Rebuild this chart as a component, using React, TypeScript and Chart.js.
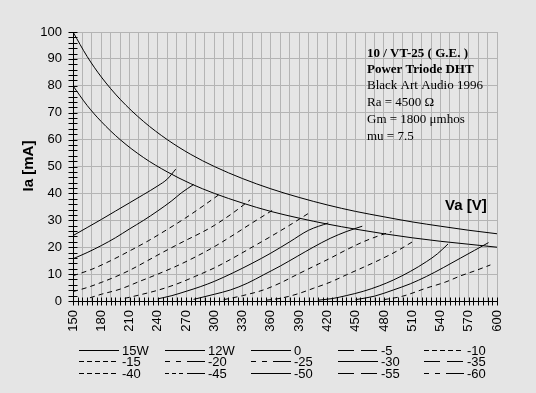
import React, { useEffect, useRef } from 'react';
import { Chart, registerables } from 'chart.js';

Chart.register(...registerables);

// ---- data (Va [V], Ia [mA]) ----
const w15 = [[150,100],[165,90.9],[180,83.3],[200,75],[225,66.7],[250,60],[275,54.5],[300,50],[330,45.5],[360,41.7],[390,38.5],[420,35.7],[450,33.3],[480,31.3],[510,29.4],[540,27.8],[570,26.3],[600,25]];
const w12 = [[150,80],[165,72.7],[180,66.7],[200,60],[225,53.3],[250,48],[275,43.6],[300,40],[330,36.4],[360,33.3],[390,30.8],[420,28.6],[450,26.7],[480,25],[510,23.5],[540,22.2],[570,21.1],[600,20]];
const g0 = [[150,24.3],[165,27.3],[180,30.3],[195,33.4],[210,36.5],[225,39.6],[240,42.8],[250,45.3],[259,49]];
const g5 = [[150,15.7],[165,18],[180,20.6],[195,23.5],[210,26.8],[225,30],[240,33.5],[255,37.3],[265,40.2],[278,43.3]];
const g10 = [[150,9.4],[170,11.8],[190,15],[210,18.6],[230,22.4],[250,26.6],[270,31],[290,35.8],[308,40.3]];
const g15 = [[150,3.5],[165,5],[180,6.9],[195,9],[210,11.4],[225,14.2],[240,17.1],[255,19.9],[270,22.6],[285,25.2],[300,28.1],[320,32.8],[338,37.6]];
const g20 = [[168,1.2],[180,2.5],[200,4.4],[220,7.2],[240,10],[260,13],[280,16.4],[300,20.2],[320,24.5],[340,29],[362,33.8]];
const g25 = [[205,1],[220,2.2],[240,4],[260,6.3],[280,9.2],[300,12.3],[320,16],[340,20],[360,24],[380,28.2],[400,32.6]];
const g30 = [[240,0.8],[255,2],[270,3.6],[285,5.3],[300,7.3],[320,10.5],[340,14],[360,17.8],[380,22],[400,26.3],[421,29]];
const g35 = [[278,0.6],[300,2.5],[317,4.1],[335,6.6],[352,9.7],[370,13],[388,16.6],[405,20],[423,23.3],[440,25.8],[457,27.8]];
const g40 = [[310,0.5],[330,2],[352,4.1],[370,6.7],[387,9.7],[405,12.8],[423,15.9],[440,19],[458,22],[475,24.3],[488,25.8]];
const g45 = [[355,0.3],[370,1],[388,2.6],[405,4.7],[423,7],[440,9.7],[458,12.5],[476,15.4],[495,18.8],[513,22.6]];
const g50 = [[410,0.3],[425,0.9],[440,2],[458,3.6],[475,5.6],[490,7.8],[508,11],[525,14.6],[537,17.6],[548,21.2]];
const g55 = [[450,0.5],[470,1.8],[490,4.1],[508,6.4],[525,9.1],[543,12.4],[561,15.9],[576,18.8],[591,21.7]];
const g60 = [[480,0.5],[500,1.8],[525,4.8],[545,7],[561,9.3],[578,11.4],[593,13.4]];

const seriesLabels = ['15W','12W','0','-5','-10','-15','-20','-25','-30','-35','-40','-45','-50','-55','-60'];
const seriesData = [w15, w12, g0, g5, g10, g15, g20, g25, g30, g35, g40, g45, g50, g55, g60];

const infoLines = ['10 / VT-25 ( G.E. )', 'Power Triode DHT', 'Black Art Audio 1996', 'Ra = 4500 Ω', 'Gm = 1800 μmhos', 'mu = 7.5'];
const xTitle = 'Va [V]';
const yTitle = 'Ia [mA]';

// ---- styles ----
const DASH: number[] = [5, 4];
const plotDash: number[][] = [[], [], [], [], DASH, DASH, DASH, DASH, [], [], DASH, DASH, [], [], DASH];
const LD_LONG = [16, 7];
const LD_SHORT = [5, 3];
const LD_DD = [5, 6, 5, 6, 18];
const LD_DDD = [4, 3, 4, 3, 4, 4, 18];
const legendDash: number[][] = [[], [], [], LD_LONG, LD_SHORT, LD_SHORT, LD_DD, LD_DD, [], LD_LONG, LD_SHORT, LD_DDD, [], LD_LONG, LD_DD];

const BG = '#e5e5e5';
const GRID = '#b4b4b4';
const SANS = '"Liberation Sans", Arial, sans-serif';
const SERIF = '"Liberation Serif", "Times New Roman", serif';

const decoPlugin = {
  id: 'deco',
  beforeDraw(chart: any) {
    const ctx = chart.ctx;
    ctx.save();
    ctx.fillStyle = BG;
    ctx.fillRect(0, 0, chart.width, chart.height);
    ctx.restore();
  },
  afterDraw(chart: any) {
    const ctx = chart.ctx;
    const { left, right, top, bottom } = chart.chartArea;
    const xs = chart.scales.x;
    const ys = chart.scales.y;
    ctx.save();
    ctx.strokeStyle = '#000';
    ctx.lineWidth = 1;
    ctx.setLineDash([]);
    // axes
    const ax = Math.round(left) + 0.5;
    const ay = Math.round(bottom) + 0.5;
    ctx.beginPath();
    ctx.moveTo(ax, Math.round(top));
    ctx.lineTo(ax, ay);
    ctx.lineTo(Math.round(right) + 1, ay);
    ctx.stroke();
    // y ticks every 2 mA
    ctx.beginPath();
    for (let v = 0; v <= 100; v += 2) {
      const py = Math.round(ys.getPixelForValue(v)) + 0.5;
      ctx.moveTo(ax - 5, py);
      ctx.lineTo(ax + 4, py);
    }
    // x ticks every 5 V
    for (let v = 150; v <= 600; v += 5) {
      const px = Math.round(xs.getPixelForValue(v)) + 0.5;
      ctx.moveTo(px, ay - 4);
      ctx.lineTo(px, ay + 4);
    }
    ctx.stroke();

    // info text
    ctx.fillStyle = '#000';
    ctx.textAlign = 'left';
    ctx.textBaseline = 'alphabetic';
    const baseY = [56.5, 72.5, 89, 106, 122.5, 140];
    infoLines.forEach((t, i) => {
      ctx.font = (i < 2 ? 'bold ' : '') + '13px ' + SERIF;
      ctx.fillText(t, 367, baseY[i]);
    });

    // axis titles
    ctx.font = 'bold 15px ' + SANS;
    ctx.fillText(xTitle, 445, 210);
    ctx.save();
    ctx.translate(33, 166);
    ctx.rotate(-Math.PI / 2);
    ctx.textAlign = 'center';
    ctx.fillText(yTitle, 0, 0);
    ctx.restore();

    // legend
    const colX = [79, 165, 251, 338, 424];
    const rowY = [349.5, 361, 372.5];
    ctx.font = '13px ' + SANS;
    chart.data.datasets.forEach((ds: any, i: number) => {
      const c = i % 5;
      const r = Math.floor(i / 5);
      const x0 = colX[c];
      const y = Math.round(rowY[r]) + 0.5;
      ctx.beginPath();
      ctx.setLineDash(legendDash[i]);
      ctx.moveTo(x0, y);
      ctx.lineTo(x0 + 40, y);
      ctx.stroke();
      ctx.setLineDash([]);
      ctx.fillText(ds.label, x0 + 43, y + 4.5);
    });
    ctx.restore();
  },
};

export default function App() {
  const ref = useRef<HTMLCanvasElement>(null);
  useEffect(() => {
    if (!ref.current) return;
    const datasets = seriesData.map((d, i) => ({
      label: seriesLabels[i],
      data: d.map(([x, y]) => ({ x, y })),
      borderColor: '#000',
      backgroundColor: '#000',
      borderWidth: 1,
      borderDash: plotDash[i],
      pointRadius: 0,
      fill: false,
      cubicInterpolationMode: 'monotone' as const,
    }));
    const chart = new Chart(ref.current, {
      type: 'line',
      data: { datasets },
      options: {
        responsive: false,
        animation: false,
        layout: { padding: { left: 0, top: 32, right: 39, bottom: 0 } },
        plugins: { legend: { display: false }, tooltip: { enabled: false } },
        scales: {
          x: {
            type: 'linear',
            min: 150,
            max: 600,
            afterFit: (s: any) => { s.height = 92; },
            ticks: {
              stepSize: 10,
              autoSkip: false,
              minRotation: 90,
              maxRotation: 90,
              padding: 9,
              color: '#000',
              font: { family: SANS, size: 13 },
              callback: (v: any) => { const n = Math.round(Number(v)); return (n - 150) % 30 === 0 ? String(n) : ''; },
            },
            grid: { color: GRID, lineWidth: 1, drawTicks: false },
            border: { display: false },
          },
          y: {
            type: 'linear',
            min: 0,
            max: 100,
            afterFit: (s: any) => { s.width = 73; },
            ticks: {
              stepSize: 10,
              padding: 11,
              color: '#000',
              font: { family: SANS, size: 13 },
            },
            grid: { color: GRID, lineWidth: 1, drawTicks: false },
            border: { display: false },
          },
        },
      },
      plugins: [decoPlugin],
    });
    return () => chart.destroy();
  }, []);
  return (
    <div style={{ position: 'fixed', left: 0, top: 0, width: 536, height: 393 }}>
      <canvas ref={ref} width={536} height={393} style={{ display: 'block' }} />
    </div>
  );
}
